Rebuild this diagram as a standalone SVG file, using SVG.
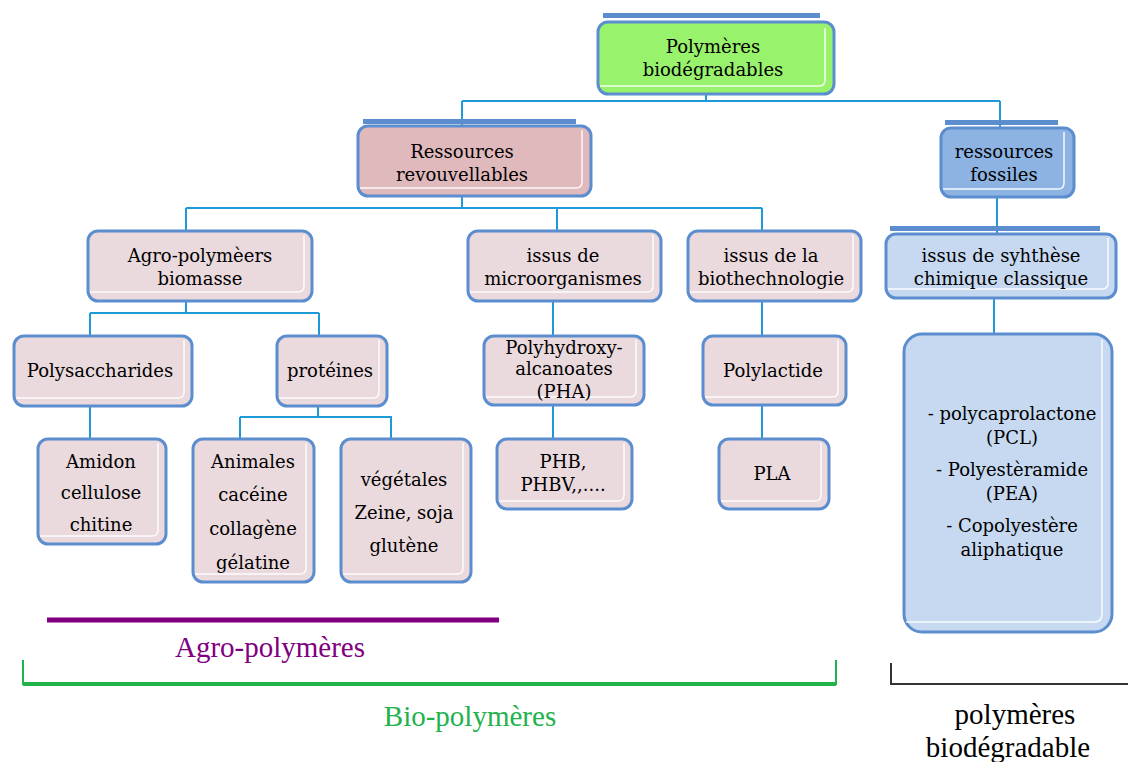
<svg xmlns="http://www.w3.org/2000/svg" width="1128" height="762" viewBox="0 0 1128 762">
<style>
  .box { stroke: #5b8dcf; stroke-width: 3; }
  .hl { fill: none; stroke: #ffffff; stroke-width: 1.5; opacity: 0.9; }
  .tab { fill: #5b8dcf; }
  .green { fill: #99f26c; }
  .pink { fill: #e0b9bd; }
  .light { fill: #ead9dd; }
  .blue { fill: #8db3e2; }
  .pale { fill: #c6d9f1; }
  .t { font-family: "DejaVu Serif", serif; font-size: 18px; fill: #000; text-anchor: middle; }
  .cap { font-family: "Liberation Serif", serif; font-size: 29px; text-anchor: middle; }
  .conn { stroke: #1f9ad8; stroke-width: 2; fill: none; }
</style>

<!-- connectors -->
<g id="connectors">
  <path class="conn" d="M706 95 V101 M462 101 H1000 M462 101 V125 M1000 101 V127"/>
  <path class="conn" d="M462 197 V208 M186 208 H762 M186 208 V230 M557 208 V230 M762 208 V230"/>
  <path class="conn" d="M997 198 V235 M994 298 V335"/>
  <path class="conn" d="M186 302 V313 M90 313 H319 M90 313 V335 M319 313 V335"/>
  <path class="conn" d="M90 407 V438 M318 407 V417 M240 417 H392 M240 417 V438 M391 417 V438"/>
  <path class="conn" d="M553 302 V335 M553 405 V438 M762 302 V335 M762 405 V438"/>
</g>

<!-- root -->
<g id="n-root">
  <rect class="tab" x="603" y="13" width="217" height="5"/>
  <rect class="box green" x="598" y="22" width="236" height="72" rx="10"/>
  <path class="hl" d="M825 28 V80 Q825 86 819 86 H600"/>
  <text class="t" x="713" y="53">Polymères</text>
  <text class="t" x="713" y="76">biodégradables</text>
</g>

<g id="n-ressources">
  <rect class="tab" x="363" y="119" width="213" height="5"/>
  <rect class="box pink" x="358" y="126" width="233" height="70" rx="10"/>
  <path class="hl" d="M582 130 V182 Q582 188 576 188 H360"/>
  <text class="t" x="462" y="158">Ressources</text>
  <text class="t" x="462" y="181">revouvellables</text>
</g>

<g id="n-fossiles">
  <rect class="tab" x="945" y="120" width="113" height="5"/>
  <rect class="box blue" x="941" y="128" width="133" height="69" rx="10"/>
  <path class="hl" d="M1064 132 V183 Q1064 189 1058 189 H943"/>
  <text class="t" x="1004" y="158">ressources</text>
  <text class="t" x="1004" y="181">fossiles</text>
</g>

<g id="n-agro">
  <rect class="box light" x="88" y="231" width="224" height="70" rx="10"/>
  <path class="hl" d="M304 235 V286 Q304 292 298 292 H90"/>
  <text class="t" x="200" y="262">Agro-polymèers</text>
  <text class="t" x="200" y="285">biomasse</text>
</g>

<g id="n-micro">
  <rect class="box light" x="468" y="231" width="193" height="70" rx="10"/>
  <path class="hl" d="M653 235 V286 Q653 292 647 292 H470"/>
  <text class="t" x="563" y="262">issus de</text>
  <text class="t" x="563" y="285">microorganismes</text>
</g>

<g id="n-biotech">
  <rect class="box light" x="688" y="231" width="173" height="70" rx="10"/>
  <path class="hl" d="M853 235 V286 Q853 292 847 292 H690"/>
  <text class="t" x="771" y="262">issus de la</text>
  <text class="t" x="771" y="285">biothechnologie</text>
</g>

<g id="n-synthese">
  <rect class="tab" x="890" y="226" width="210" height="5"/>
  <rect class="box pale" x="886" y="234" width="230" height="64" rx="10"/>
  <path class="hl" d="M1108 238 V283 Q1108 289 1102 289 H888"/>
  <text class="t" x="1001" y="262">issus de syhthèse</text>
  <text class="t" x="1001" y="285">chimique classique</text>
</g>

<g id="n-polysacch">
  <rect class="box light" x="14" y="336" width="178" height="70" rx="10"/>
  <path class="hl" d="M184 340 V392 Q184 398 178 398 H16"/>
  <text class="t" x="100" y="377">Polysaccharides</text>
</g>

<g id="n-proteines">
  <rect class="box light" x="277" y="336" width="110" height="70" rx="10"/>
  <path class="hl" d="M379 340 V392 Q379 398 373 398 H279"/>
  <text class="t" x="330" y="377">protéines</text>
</g>

<g id="n-pha">
  <rect class="box light" x="484" y="336" width="160" height="69" rx="10"/>
  <path class="hl" d="M636 340 V391 Q636 397 630 397 H486"/>
  <text class="t" x="564" y="354">Polyhydroxy-</text>
  <text class="t" x="564" y="375">alcanoates</text>
  <text class="t" x="564" y="398">(PHA)</text>
</g>

<g id="n-polylactide">
  <rect class="box light" x="703" y="336" width="143" height="69" rx="10"/>
  <path class="hl" d="M838 340 V391 Q838 397 832 397 H705"/>
  <text class="t" x="773" y="377">Polylactide</text>
</g>

<g id="n-amidon">
  <rect class="box light" x="38" y="439" width="128" height="105" rx="10"/>
  <path class="hl" d="M158 443 V530 Q158 536 152 536 H40"/>
  <text class="t" x="101" y="468">Amidon</text>
  <text class="t" x="101" y="499">cellulose</text>
  <text class="t" x="101" y="531">chitine</text>
</g>

<g id="n-animales">
  <rect class="box light" x="193" y="439" width="121" height="143" rx="10"/>
  <path class="hl" d="M306 443 V568 Q306 574 300 574 H195"/>
  <text class="t" x="253" y="468">Animales</text>
  <text class="t" x="253" y="501">cacéine</text>
  <text class="t" x="253" y="535">collagène</text>
  <text class="t" x="253" y="569">gélatine</text>
</g>

<g id="n-vegetales">
  <rect class="box light" x="341" y="439" width="130" height="143" rx="10"/>
  <path class="hl" d="M463 443 V568 Q463 574 457 574 H343"/>
  <text class="t" x="404" y="486">végétales</text>
  <text class="t" x="404" y="519">Zeine, soja</text>
  <text class="t" x="404" y="552">glutène</text>
</g>

<g id="n-phb">
  <rect class="box light" x="497" y="439" width="135" height="70" rx="10"/>
  <path class="hl" d="M624 443 V495 Q624 501 618 501 H499"/>
  <text class="t" x="563" y="468">PHB,</text>
  <text class="t" x="563" y="491">PHBV,,....</text>
</g>

<g id="n-pla">
  <rect class="box light" x="719" y="439" width="110" height="70" rx="10"/>
  <path class="hl" d="M821 443 V495 Q821 501 815 501 H721"/>
  <text class="t" x="772" y="480">PLA</text>
</g>

<g id="n-synth-list">
  <rect class="box pale" x="904" y="334" width="208" height="298" rx="18"/>
  <path class="hl" d="M1102 340 V614 Q1102 622 1094 622 H906"/>
  <text class="t" x="1012" y="420">- polycaprolactone</text>
  <text class="t" x="1012" y="444">(PCL)</text>
  <text class="t" x="1012" y="476">- Polyestèramide</text>
  <text class="t" x="1012" y="500">(PEA)</text>
  <text class="t" x="1012" y="532">- Copolyestère</text>
  <text class="t" x="1012" y="556">aliphatique</text>
</g>

<!-- group brackets and their captions -->
<g id="legend">
  <line x1="47" y1="620" x2="499" y2="620" stroke="#800080" stroke-width="5"/>
  <text class="cap" x="270" y="657" fill="#800080">Agro-polymères</text>
  <path d="M23 660 V684 H836 V660" fill="none" stroke="#22b24c" stroke-width="2"/>
  <line x1="23" y1="684" x2="836" y2="684" stroke="#22b24c" stroke-width="4"/>
  <text class="cap" x="470" y="726" fill="#22b24c">Bio-polymères</text>
  <path d="M891 663 V684 H1128" fill="none" stroke="#333333" stroke-width="2"/>
  <text class="cap" x="1015" y="724" fill="#000">polymères</text>
  <text class="cap" x="1008" y="757" fill="#000">biodégradable</text>
</g>
</svg>
